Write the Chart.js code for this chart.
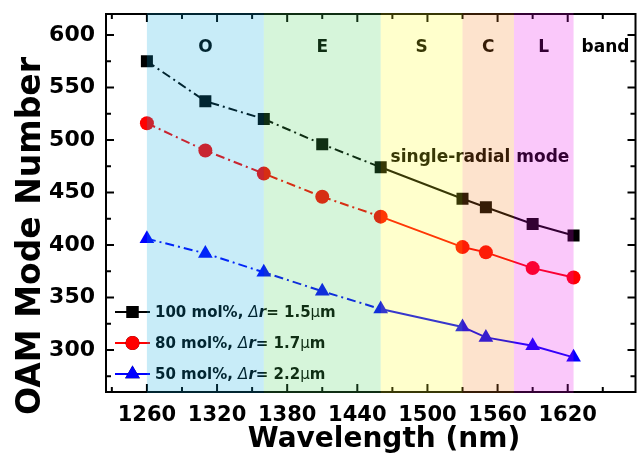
<!DOCTYPE html>
<html><head><meta charset="utf-8">
<script src="https://cdn.jsdelivr.net/npm/chart.js@4.4.1/dist/chart.umd.min.js"></script>
<style>html,body{margin:0;padding:0;background:#fff;} #c{display:block;}</style>
</head><body>
<canvas id="c" width="644" height="458"></canvas>
<script>
// ---- data ----
const wavelengths = [1260, 1310, 1360, 1410, 1460, 1530, 1550, 1590, 1625];
const mode100 = [575, 537, 520, 496, 474, 444, 436, 420, 409];
const mode80  = [516, 490, 468, 446, 427, 398, 393, 378, 369];
const mode50  = [406, 392, 374, 356, 339, 322, 312, 304, 293];
const seriesNames = ['100 mol%', '80 mol%', '50 mol%'];
const deltaR = ['1.5', '1.7', '2.2'];
const xTicks = [1260, 1320, 1380, 1440, 1500, 1560, 1620];
const yTicks = [300, 350, 400, 450, 500, 550, 600];
const bandNames = ['O', 'E', 'S', 'C', 'L'];
const bandStarts = [1260, 1360, 1460, 1530, 1574];
const bandEnds   = [1360, 1460, 1530, 1574, 1625];
const lastDashedIndex = 4; // dash-dot up to 1460 nm, solid after (single-radial mode)

// ---- styles ----
const FONT = "'DejaVu Sans', sans-serif";
const seriesColors = ['#000000', '#ff0000', '#0000ff'];
const seriesShapes = ['rect', 'circle', 'triangle'];
const seriesRadius = [8.5, 7, 8.5];
const bandFill = ['rgba(5,168,223,0.22)', 'rgba(69,209,87,0.22)', 'rgba(255,255,23,0.22)', 'rgba(245,128,28,0.22)', 'rgba(232,5,232,0.22)'];

const seriesValues = [mode100, mode80, mode50];
const datasets = seriesValues.map((vals, i) => ({
  label: seriesNames[i] + ', Δr= ' + deltaR[i] + 'μm',
  data: wavelengths.map((w, k) => ({x: w, y: vals[k]})),
  borderColor: seriesColors[i],
  backgroundColor: seriesColors[i],
  borderWidth: 2,
  pointStyle: seriesShapes[i],
  pointRadius: seriesRadius[i],
  pointHoverRadius: seriesRadius[i],
  pointBorderWidth: 0,
  tension: 0,
  segment: { borderDash: ctx => ctx.p0DataIndex < lastDashedIndex ? [9, 4, 2, 4] : [] }
}));

function drawSegments(ctx, x, y, segs) {
  let cx = x;
  segs.forEach(([t, f]) => { ctx.font = f; ctx.fillText(t, cx, y); cx += ctx.measureText(t).width; });
}

const deco = {
  id: 'deco',
  beforeDatasetsDraw(chart) {
    const {ctx, chartArea: a, scales: {x, y}} = chart;
    ctx.save();
    ctx.strokeStyle = '#000';
    ctx.lineWidth = 2;
    ctx.strokeRect(a.left, a.top, a.right - a.left, a.bottom - a.top);
    ctx.lineWidth = 2;
    const xMinor = xTicks.map(v => v - 30).concat([xTicks[xTicks.length - 1] + 30]);
    const yMinor = yTicks.map(v => v - 25).concat([yTicks[yTicks.length - 1] + 25]);
    const tick = (x1, y1, x2, y2) => { ctx.beginPath(); ctx.moveTo(x1, y1); ctx.lineTo(x2, y2); ctx.stroke(); };
    [[xTicks, 8], [xMinor, 5]].forEach(([arr, len]) => arr.forEach(v => {
      if (v < x.min || v > x.max) return;
      const px = x.getPixelForValue(v);
      tick(px, a.bottom, px, a.bottom - len);
      tick(px, a.top, px, a.top + len);
    }));
    [[yTicks, 8], [yMinor, 5]].forEach(([arr, len]) => arr.forEach(v => {
      if (v < y.min || v > y.max) return;
      const py = y.getPixelForValue(v);
      tick(a.left, py, a.left + len, py);
      tick(a.right, py, a.right - len, py);
    }));
    ctx.restore();
  },
  afterDatasetsDraw(chart) {
    const {ctx, chartArea: a, scales: {x, y}} = chart;
    ctx.save();
    // legend
    const lx0 = 115, lx1 = 150, ly0 = 312, dy = 31, tx = 155;
    chart.data.datasets.forEach((ds, i) => {
      const ly = ly0 + i * dy;
      ctx.strokeStyle = ds.borderColor; ctx.lineWidth = 2; ctx.setLineDash([]);
      ctx.beginPath(); ctx.moveTo(lx0, ly); ctx.lineTo(lx1, ly); ctx.stroke();
      Chart.helpers.drawPoint(ctx, {pointStyle: ds.pointStyle, radius: ds.pointRadius, borderWidth: 0}, (lx0 + lx1) / 2, ly);
      ctx.fillStyle = ds.backgroundColor; ctx.fill();
      ctx.fillStyle = '#000'; ctx.textBaseline = 'middle'; ctx.textAlign = 'left';
      drawSegments(ctx, tx, ly + 1, [
        [seriesNames[i] + ', ', 'bold 15px ' + FONT],
        ['Δ', 'italic 15px ' + FONT],
        ['r', 'bold italic 15px ' + FONT],
        ['= ' + deltaR[i], 'bold 15px ' + FONT],
        ['μ', '15px ' + FONT],
        ['m', 'bold 15px ' + FONT]
      ]);
    });
    // band labels
    ctx.fillStyle = '#000'; ctx.textAlign = 'center'; ctx.textBaseline = 'middle';
    ctx.font = 'bold 17px ' + FONT;
    bandNames.forEach((n, i) => {
      const cx = x.getPixelForValue((bandStarts[i] + bandEnds[i]) / 2);
      ctx.fillText(n, cx, 48);
    });
    const lastEnd = x.getPixelForValue(bandEnds[bandEnds.length - 1]);
    ctx.fillText('band', (lastEnd + a.right) / 2 + 1, 48);
    ctx.font = 'bold 17px ' + FONT;
    ctx.fillText('single-radial mode', 480, 158);
    // translucent band overlay
    bandNames.forEach((n, i) => {
      const p0 = x.getPixelForValue(bandStarts[i]), p1 = x.getPixelForValue(bandEnds[i]);
      ctx.fillStyle = bandFill[i];
      ctx.fillRect(p0, a.top - 1, p1 - p0, a.bottom - a.top + 2);
    });
    // axis titles
    ctx.fillStyle = '#000';
    ctx.font = 'bold 28px ' + FONT;
    ctx.textAlign = 'center'; ctx.textBaseline = 'alphabetic';
    ctx.fillText('Wavelength (nm)', 384, 447);
    ctx.translate(40, 236); ctx.rotate(-Math.PI / 2);
    ctx.font = 'bold 33px ' + FONT;
    ctx.fillText('OAM Mode Number', 0, 0);
    ctx.restore();
  }
};

new Chart(document.getElementById('c'), {
  type: 'line',
  data: { datasets },
  options: {
    responsive: false,
    animation: false,
    devicePixelRatio: 1,
    layout: { padding: { top: 14, right: 8, left: 0, bottom: 0 } },
    plugins: { legend: { display: false }, tooltip: { enabled: false } },
    scales: {
      x: {
        type: 'linear', min: 1225, max: 1678,
        grid: { display: false, drawTicks: false },
        border: { display: false },
        afterBuildTicks: s => { s.ticks = xTicks.map(v => ({value: v})); },
        afterFit: s => { s.height = 66; s.paddingLeft = 0; s.paddingRight = 0; },
        ticks: { color: '#000', font: { family: FONT, weight: 'bold', size: 21 }, padding: 11, maxRotation: 0, autoSkip: false, callback: v => String(v) }
      },
      y: {
        type: 'linear', min: 260, max: 620,
        grid: { display: false, drawTicks: false },
        border: { display: false },
        afterBuildTicks: s => { s.ticks = yTicks.map(v => ({value: v})); },
        afterFit: s => { s.width = 106; s.paddingTop = 0; s.paddingBottom = 0; },
        ticks: { color: '#000', font: { family: FONT, weight: 'bold', size: 22 }, padding: 11, callback: v => String(v) }
      }
    }
  },
  plugins: [deco]
});
</script>
</body></html>
